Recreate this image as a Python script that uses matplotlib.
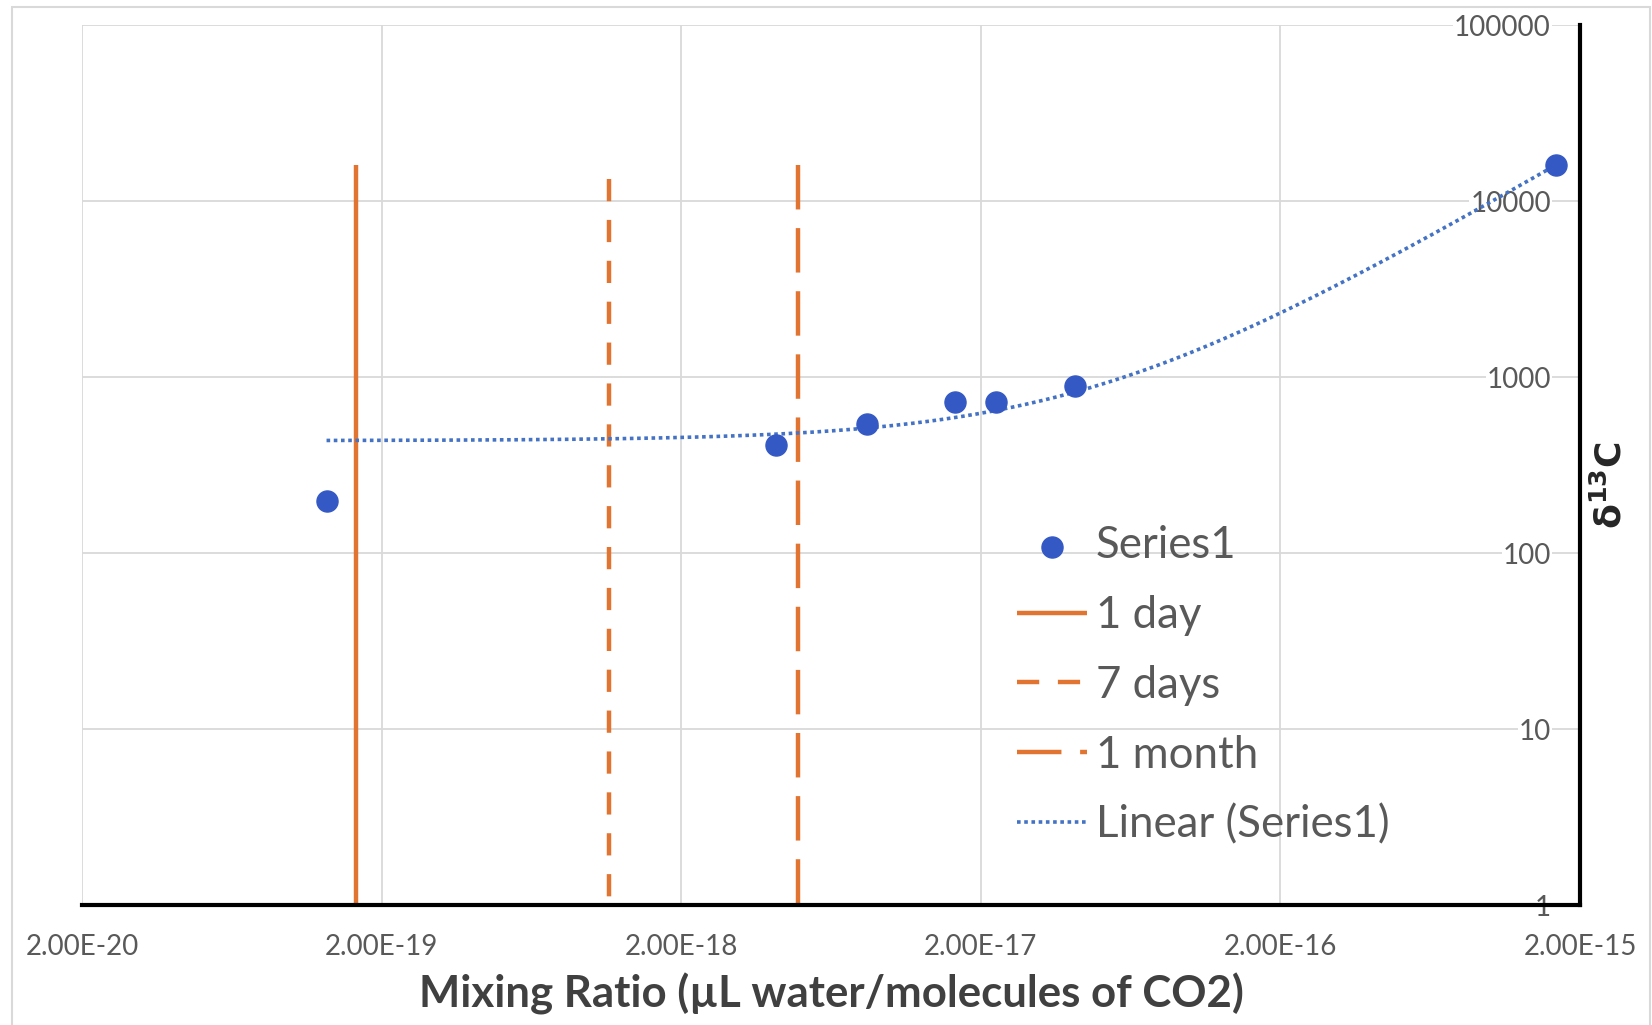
import numpy as np
import matplotlib.pyplot as plt
from matplotlib.patches import Rectangle

plt.rcParams['font.family'] = ['Lato', 'DejaVu Sans']

# Series1: mixing ratio vs delta 13C
mixing_ratio = [1.31e-19, 4.15e-18, 8.34e-18, 1.64e-17, 2.24e-17, 4.14e-17, 1.66e-15]
d13c = [198, 411, 541, 722, 722, 889, 16000]

# time markers drawn as vertical lines
period_names = ['1 day', '7 days', '1 month']
period_x = [1.64e-19, 1.15e-18, 4.92e-18]
period_top = [16000, 13400, 16000]
period_styles = ['-', (0, (5, 4.2)), (0, (10, 4.2))]

xticks = [2e-20, 2e-19, 2e-18, 2e-17, 2e-16, 2e-15]
xtick_labels = ['2.00E-20', '2.00E-19', '2.00E-18', '2.00E-17', '2.00E-16', '2.00E-15']
yticks = [1, 10, 100, 1000, 10000, 100000]
ytick_labels = ['1', '10', '100', '1000', '10000', '100000']

blue = '#3459C4'
orange = '#E27431'
grey = '#595959'

fig = plt.figure(figsize=(16.52, 10.25), dpi=100)
ax = fig.add_axes([82/1652, 1 - 905/1025, 1498/1652, 880/1025])

ax.set_xscale('log')
ax.set_yscale('log')
ax.set_xlim(xticks[0], xticks[-1])
ax.set_ylim(yticks[0], yticks[-1])

sc = ax.scatter(mixing_ratio, d13c, s=230, color=blue, zorder=4, label='Series1')

lines = []
for name, xv, top, ls in zip(period_names, period_x, period_top, period_styles):
    # drawn top-down so the dash pattern starts at the upper end
    ln, = ax.plot([xv, xv], [top, yticks[0]], color=orange, lw=3.2, ls=ls,
                  solid_capstyle='butt', dash_capstyle='butt', zorder=3, label=name)
    lines.append(ln)

# linear trendline of Series1
slope, intercept = np.polyfit(mixing_ratio, d13c, 1)
xt = np.logspace(np.log10(min(mixing_ratio)), np.log10(max(mixing_ratio)), 300)
tr, = ax.plot(xt, slope * xt + intercept, color='#4472C4', lw=2.6, ls=(0, (1, 1)),
              dash_capstyle='butt', zorder=3, label='Linear (Series1)')

ax.set_xticks(xticks)
ax.set_xticklabels(xtick_labels)
ax.set_yticks(yticks)
ax.set_yticklabels(ytick_labels)
ax.xaxis.set_minor_locator(plt.NullLocator())
ax.yaxis.set_minor_locator(plt.NullLocator())

ax.grid(True, color='#D9D9D9', lw=1.3, zorder=0)
ax.set_axisbelow(True)

for s in ['left', 'top']:
    ax.spines[s].set_visible(False)
for s in ['bottom', 'right']:
    ax.spines[s].set_linewidth(3)
    ax.spines[s].set_color('black')
    ax.spines[s].set_zorder(5)

ax.tick_params(axis='x', length=0, pad=21, labelsize=20, labelcolor=grey)
ax.tick_params(axis='y', left=False, right=False, labelleft=False, labelright=True,
               length=0, pad=-21, labelsize=20, labelcolor=grey)
for lbl in ax.get_yticklabels():
    lbl.set_ha('right')
    lbl.set_bbox(dict(facecolor='white', edgecolor='none', pad=0.5))

ax.set_xlabel('Mixing Ratio (µL water/molecules of CO2)', fontsize=31.5,
              fontweight='bold', color='#404040', labelpad=9)

fig.text(1610/1652, 1 - 485/1025, r'δ$^{\mathbf{13}}$C', rotation=90,
         fontsize=26, fontweight='bold', color='#262626',
         family='DejaVu Sans', ha='center', va='center')

leg = ax.legend(handles=[sc] + lines + [tr], loc='upper left',
                bbox_to_anchor=(1017/1652, 1 - 525/1025), bbox_transform=fig.transFigure,
                frameon=False, fontsize=31.5, labelcolor=grey, borderpad=0,
                borderaxespad=0, handlelength=1.6, handletextpad=0.2,
                labelspacing=0.66, markerscale=1.0, scatterpoints=1)

# light outer border
fig.patches.append(Rectangle((12/1652, -0.01), 1638/1652, 1 - 7/1025 + 0.01,
                             transform=fig.transFigure, fill=False,
                             edgecolor='#D9D9D9', lw=1.5))

fig.savefig('out.png', dpi=100)
